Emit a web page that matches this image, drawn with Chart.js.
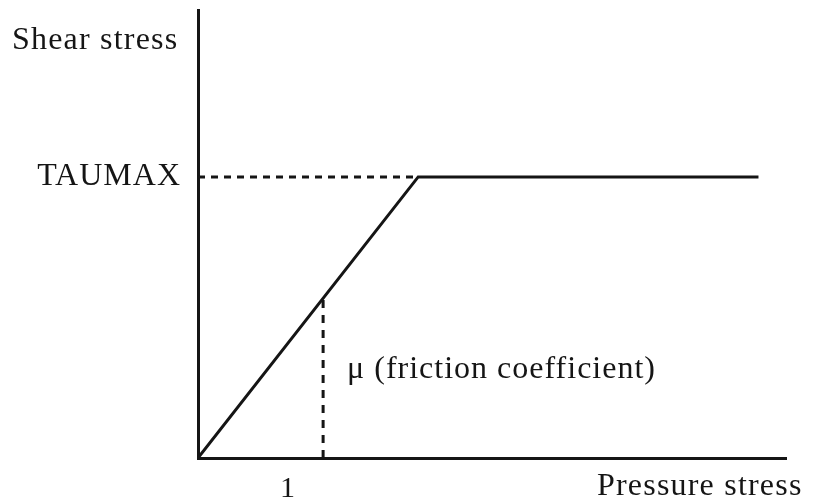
<!DOCTYPE html>
<html>
<head>
<meta charset="utf-8">
<script src="https://cdn.jsdelivr.net/npm/chart.js@4.4.1/dist/chart.umd.min.js"></script>
<style>
  html, body { margin: 0; padding: 0; background: #fff; }
  #wrap { width: 813px; height: 503px; }
</style>
</head>
<body>
<div id="wrap"><canvas id="frictionChart"></canvas></div>
<script>
// friction model: shear stress grows with pressure (slope mu) until TAUMAX
const xTicks = [1];
const xTickLabels = ['1'];
const yTicks = [1];
const yTickLabels = ['TAUMAX'];

const envelopeX = [0, 1.76, 4.48];
const envelopeY = [0, 1, 1];
const taumaxX = [0, 1.76];
const taumaxY = [1, 1];
const muX = [1, 1];
const muY = [0, 0.57];

const xMax = 4.7;
const yMax = 1.594;

const toPoints = (xs, ys) => xs.map((x, i) => ({ x: x, y: ys[i] }));

const serif = '"Liberation Serif", "Times New Roman", serif';
const ink = '#151515';

const textPlugin = {
  id: 'textPlugin',
  beforeDraw(chart) {
    chart.ctx.letterSpacing = '1px';
  },
  afterDraw(chart) {
    const ctx = chart.ctx;
    const xs = chart.scales.x;
    const ys = chart.scales.y;
    ctx.save();
    ctx.fillStyle = ink;
    ctx.textBaseline = 'alphabetic';
    ctx.textAlign = 'left';
    ctx.letterSpacing = '1.2px';
    ctx.font = '32px ' + serif;
    // axis titles
    ctx.fillText('Shear stress', 12, chart.chartArea.top + 39);
    ctx.fillText('Pressure stress', chart.chartArea.right - 189, chart.chartArea.bottom + 37);
    // mu label next to the dashed line
    ctx.letterSpacing = '1px';
    ctx.fillText('\u03bc (friction coefficient)', xs.getPixelForValue(muX[0]) + 24, ys.getPixelForValue(0) - 80);
    ctx.restore();
  }
};

const ctx = document.getElementById('frictionChart').getContext('2d');
const chart = new Chart(ctx, {
  type: 'scatter',
  data: {
    datasets: [{
      data: toPoints(envelopeX, envelopeY),
      showLine: true,
      borderColor: ink,
      borderWidth: 3,
      pointRadius: 0,
    }, {
      data: toPoints(taumaxX, taumaxY),
      showLine: true,
      borderColor: ink,
      borderWidth: 3,
      borderDash: [7, 6],
      pointRadius: 0,
    }, {
      data: toPoints(muX, muY),
      showLine: true,
      borderColor: ink,
      borderWidth: 3,
      borderDash: [8, 7],
      pointRadius: 0,
    }],
  },
  options: {
    responsive: true,
    maintainAspectRatio: false,
    animation: false,
    events: [],
    layout: {
      padding: { top: 10, right: 27, left: 0, bottom: 0 },
    },
    plugins: {
      legend: { display: false },
      tooltip: { enabled: false },
    },
    scales: {
      x: {
        type: 'linear',
        min: 0,
        max: xMax,
        afterBuildTicks: (scale) => { scale.ticks = xTicks.map(v => ({ value: v })); },
        afterFit: (scale) => {
          scale.height = 45;
          scale.paddingLeft = 0;
          scale.paddingRight = 0;
        },
        ticks: {
          callback: (v) => xTickLabels[xTicks.indexOf(v)],
          color: ink,
          font: { family: serif, size: 30 },
          padding: 13,
          labelOffset: -35,
          maxRotation: 0,
        },
        grid: { display: false, drawTicks: false },
        border: { display: true, color: ink, width: 3 },
      },
      y: {
        type: 'linear',
        min: 0,
        max: yMax,
        afterBuildTicks: (scale) => { scale.ticks = yTicks.map(v => ({ value: v })); },
        afterFit: (scale) => {
          scale.width = 198;
          scale.paddingTop = 0;
          scale.paddingBottom = 0;
        },
        ticks: {
          callback: (v) => yTickLabels[yTicks.indexOf(v)],
          color: ink,
          font: { family: serif, size: 32 },
          padding: 17,
        },
        grid: { display: false, drawTicks: false },
        border: { display: true, color: ink, width: 3 },
      },
    },
  },
  plugins: [textPlugin],
});
</script>
</body>
</html>
